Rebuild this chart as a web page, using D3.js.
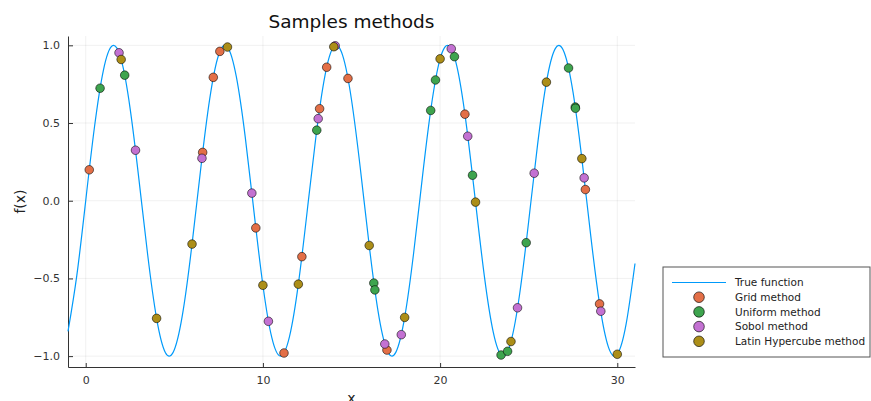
<!DOCTYPE html>
<html>
<head>
<meta charset="utf-8">
<script src="https://d3js.org/d3.v7.min.js"></script>
<style>
  body { margin: 0; background: #fff; }
  text { font-family: "DejaVu Sans", sans-serif; }
</style>
</head>
<body>
<div id="chart"></div>
<script>
// true function, sampled every 0.5 from -1 to 31
const curveX0 = -1, curveStep = 0.5;
const curveY = [-0.841, -0.479, 0, 0.479, 0.841, 0.997, 0.909, 0.598, 0.141, -0.351,
  -0.757, -0.978, -0.959, -0.706, -0.279, 0.215, 0.657, 0.938, 0.989, 0.798,
  0.412, -0.075, -0.544, -0.880, -1.000, -0.875, -0.537, -0.066, 0.420, 0.804,
  0.991, 0.935, 0.650, 0.206, -0.288, -0.712, -0.961, -0.976, -0.751, -0.343,
  0.150, 0.605, 0.913, 0.997, 0.837, 0.472, -0.009, -0.487, -0.846, -0.998,
  -0.906, -0.592, -0.132, 0.359, 0.763, 0.979, 0.956, 0.700, 0.271, -0.223,
  -0.664, -0.942, -0.988, -0.793, -0.404];

const gridX = [0.2, 6.6, 7.2, 7.57, 9.6, 11.19, 12.2, 13.2, 13.6, 14.8, 17.0, 21.4, 28.2, 29.0];
const gridY = [0.199, 0.311, 0.794, 0.961, -0.175, -0.980, -0.360, 0.592, 0.859, 0.787, -0.961, 0.557, 0.072, -0.664];

const uniformX = [0.81, 2.2, 13.04, 16.26, 16.32, 19.47, 19.74, 20.81, 21.83, 23.44, 23.81, 24.86, 27.25, 27.63, 27.64];
const uniformY = [0.724, 0.808, 0.454, -0.530, -0.574, 0.581, 0.777, 0.927, 0.164, -0.993, -0.969, -0.270, 0.854, 0.603, 0.595];

const sobolX = [1.88, 2.81, 6.56, 9.376, 10.31, 13.12, 14.08, 16.88, 17.81, 20.63, 21.56, 24.37, 25.31, 28.13, 29.07];
const sobolY = [0.952, 0.325, 0.273, 0.049, -0.776, 0.528, 0.997, -0.922, -0.862, 0.978, 0.415, -0.689, 0.177, 0.147, -0.711];

const lhcX = [2, 4, 6, 8, 10, 12, 14, 16, 18, 20, 22, 24, 26, 28, 30];
const lhcY = [0.909, -0.757, -0.279, 0.989, -0.544, -0.537, 0.991, -0.288, -0.751, 0.913, -0.009, -0.906, 0.763, 0.271, -0.988];

const xTicks = [0, 10, 20, 30];
const yTicks = [-1.0, -0.5, 0.0, 0.5, 1.0];

const series = [
  { name: "Grid method", color: "#E36F47", xs: gridX, ys: gridY },
  { name: "Uniform method", color: "#3EA44E", xs: uniformX, ys: uniformY },
  { name: "Sobol method", color: "#C371D2", xs: sobolX, ys: sobolY },
  { name: "Latin Hypercube method", color: "#AC8E18", xs: lhcX, ys: lhcY }
];

const width = 871, height = 401;
const margin = { left: 68, right: 236, top: 36, bottom: 34 };

const svg = d3.select("#chart").append("svg")
    .attr("width", width)
    .attr("height", height);

const x = d3.scaleLinear().domain([-1, 31]).range([margin.left, width - margin.right]);
const y = d3.scaleLinear().domain([-1.07, 1.06]).range([height - margin.bottom, margin.top]);

// grid
svg.append("g")
  .selectAll("line")
  .data(xTicks)
  .join("line")
    .attr("x1", d => x(d)).attr("x2", d => x(d))
    .attr("y1", margin.top).attr("y2", height - margin.bottom)
    .attr("stroke", "#000").attr("stroke-opacity", 0.1).attr("stroke-width", 0.6);

svg.append("g")
  .selectAll("line")
  .data(yTicks)
  .join("line")
    .attr("x1", margin.left).attr("x2", width - margin.right)
    .attr("y1", d => y(d)).attr("y2", d => y(d))
    .attr("stroke", "#000").attr("stroke-opacity", 0.1).attr("stroke-width", 0.6);

// axes
const fmt = d => d3.format(".1f")(d).replace("-", "\u2212");

const xAxis = svg.append("g")
    .attr("transform", `translate(0,${height - margin.bottom})`)
    .call(d3.axisBottom(x).tickValues(xTicks).tickSizeInner(-4).tickSizeOuter(0).tickPadding(9));
const yAxis = svg.append("g")
    .attr("transform", `translate(${margin.left},0)`)
    .call(d3.axisLeft(y).tickValues(yTicks).tickFormat(fmt).tickSizeInner(-5).tickSizeOuter(0).tickPadding(8));

[xAxis, yAxis].forEach(g => {
  g.select(".domain").attr("stroke", "#333").attr("stroke-width", 1);
  g.selectAll(".tick line").attr("stroke", "#333");
  g.selectAll(".tick text").attr("fill", "#333").attr("font-size", 11)
    .attr("font-family", "DejaVu Sans, sans-serif");
});

// true function
const line = d3.line()
    .x((d, i) => x(curveX0 + i * curveStep))
    .y(d => y(d))
    .curve(d3.curveNatural);

svg.append("path")
    .datum(curveY)
    .attr("fill", "none")
    .attr("stroke", "#009AFA")
    .attr("stroke-width", 1.2)
    .attr("d", line);

// samples
series.forEach(s => {
  svg.append("g")
    .selectAll("circle")
    .data(s.xs.map((v, i) => [v, s.ys[i]]))
    .join("circle")
      .attr("cx", d => x(d[0]))
      .attr("cy", d => y(d[1]))
      .attr("r", 4.3)
      .attr("fill", s.color)
      .attr("stroke", "#000")
      .attr("stroke-opacity", 0.7)
      .attr("stroke-width", 0.8);
});

// titles
svg.append("text")
    .attr("x", (margin.left + width - margin.right) / 2)
    .attr("y", 28)
    .attr("text-anchor", "middle")
    .attr("font-size", 18.5)
    .attr("fill", "#111")
    .text("Samples methods");

svg.append("text")
    .attr("transform", `translate(25,${(margin.top + height - margin.bottom) / 2}) rotate(-90)`)
    .attr("text-anchor", "middle")
    .attr("font-size", 14)
    .attr("fill", "#222")
    .text("f(x)");

svg.append("text")
    .attr("x", (margin.left + width - margin.right) / 2)
    .attr("y", 403)
    .attr("text-anchor", "middle")
    .attr("font-size", 14)
    .attr("fill", "#222")
    .text("x");

// legend
const legend = svg.append("g").attr("transform", "translate(663,267)");
legend.append("rect")
    .attr("width", 207).attr("height", 90)
    .attr("fill", "#fff").attr("stroke", "#555").attr("stroke-width", 1);

const rowY = d => 15.5 + d * 14.7;
legend.append("line")
    .attr("x1", 9).attr("x2", 63).attr("y1", rowY(0)).attr("y2", rowY(0))
    .attr("stroke", "#009AFA").attr("stroke-width", 1.2);

legend.selectAll("circle.key")
  .data(series)
  .join("circle")
    .attr("class", "key")
    .attr("cx", 36)
    .attr("cy", (d, i) => rowY(i + 1))
    .attr("r", 5.3)
    .attr("fill", d => d.color)
    .attr("stroke", "#000").attr("stroke-opacity", 0.7).attr("stroke-width", 0.9);

legend.selectAll("text")
  .data(["True function"].concat(series.map(s => s.name)))
  .join("text")
    .attr("x", 72)
    .attr("y", (d, i) => rowY(i))
    .attr("dy", "0.35em")
    .attr("font-size", 10.5)
    .attr("fill", "#222")
    .text(d => d);
</script>
</body>
</html>
